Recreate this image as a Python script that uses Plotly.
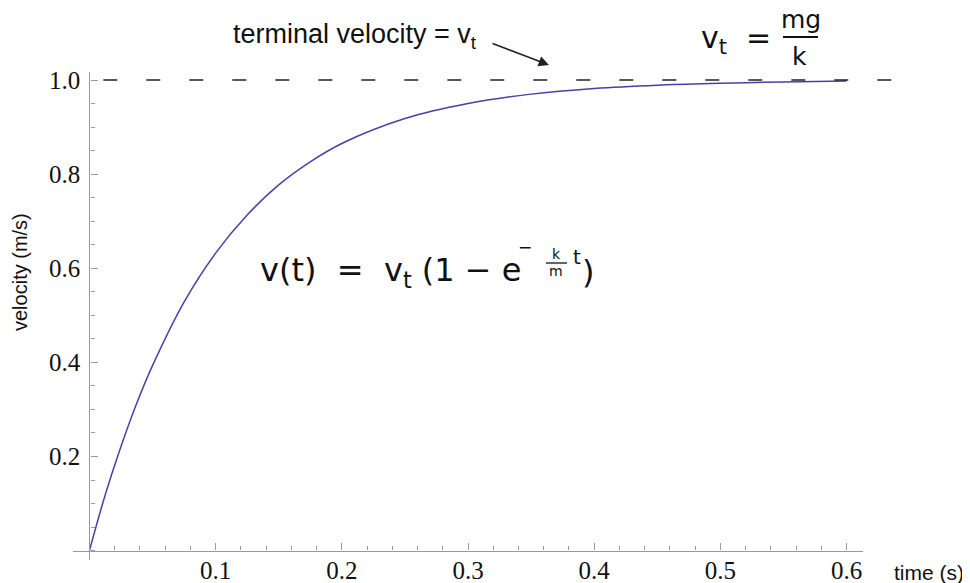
import plotly.graph_objects as go

# ---- data ----
time_s = [0, 0.0125, 0.025, 0.0375, 0.05, 0.075, 0.1, 0.125, 0.15, 0.175, 0.2,
          0.25, 0.3, 0.35, 0.4, 0.45, 0.5, 0.55, 0.6]
velocity = [0, 0.118, 0.221, 0.313, 0.393, 0.528, 0.632, 0.713, 0.777, 0.826, 0.865,
            0.918, 0.950, 0.970, 0.982, 0.989, 0.993, 0.996, 0.998]
terminal_v = 1.0
dash_t = [0.011, 0.646]

x_ticks = [0.1, 0.2, 0.3, 0.4, 0.5, 0.6]
x_tick_text = ["0.1", "0.2", "0.3", "0.4", "0.5", "0.6"]
y_ticks = [0.2, 0.4, 0.6, 0.8, 1.0]
y_tick_text = ["0.2", "0.4", "0.6", "0.8", "1.0"]

X_RANGE = [-0.013, 0.613]
Y_RANGE = [-0.02, 1.017]

OFF = 8  # page body margin
W, H = 970, 583
# plot area in screen pixels: left 73, right 863, top 72, bottom 560
L, T = 73 - OFF, 72 - OFF
R, B = W - (863 - OFF), H - (560 - OFF)
PW, PH = W - L - R, H - T - B


def px(x):
    return (x - OFF - L) / PW


def py(y):
    return (H - B - (y - OFF)) / PH


def xpaper(v):
    return (v - X_RANGE[0]) / (X_RANGE[1] - X_RANGE[0])


def ypaper(v):
    return (v - Y_RANGE[0]) / (Y_RANGE[1] - Y_RANGE[0])


fig = go.Figure()
fig.add_trace(go.Scatter(x=time_s, y=velocity, mode="lines",
                         line=dict(color="#4343a6", width=1.5, shape="spline"),
                         hoverinfo="skip", showlegend=False))

fig.add_shape(type="line", xref="paper", yref="y",
              x0=xpaper(dash_t[0]), x1=xpaper(dash_t[1]), y0=terminal_v, y1=terminal_v,
              line=dict(color="#222222", width=1.6, dash="14px,29px"))

serif = "Liberation Serif, Times New Roman, serif"
sans = "Liberation Sans, Arial, sans-serif"
mfont = "DejaVu Sans, sans-serif"
tickfont = dict(family=serif, size=25, color="#111111")

fig.update_layout(
    template="none",
    width=W, height=H,
    margin=dict(l=L, r=R, t=T, b=B, pad=0, autoexpand=False),
    paper_bgcolor="white", plot_bgcolor="white",
    xaxis=dict(range=X_RANGE, showgrid=False, zeroline=False, automargin=False,
               showline=True, linecolor="#9a9a9a", linewidth=1.2,
               anchor="free", position=ypaper(0),
               tickmode="array", tickvals=x_ticks, ticktext=x_tick_text,
               ticks="inside", ticklen=7, tickwidth=1, tickcolor="#9a9a9a",
               tickfont=tickfont, ticklabelstandoff=-3,
               minor=dict(dtick=0.02, tick0=0, ticks="inside", ticklen=4,
                          tickwidth=1, tickcolor="#9a9a9a", showgrid=False)),
    yaxis=dict(range=Y_RANGE, showgrid=False, zeroline=False, automargin=False,
               showline=True, linecolor="#9a9a9a", linewidth=1.2,
               anchor="free", position=xpaper(0),
               tickmode="array", tickvals=y_ticks, ticktext=y_tick_text,
               ticks="inside", ticklen=7, tickwidth=1, tickcolor="#9a9a9a",
               tickfont=tickfont, ticklabelstandoff=4,
               minor=dict(dtick=0.05, tick0=0, ticks="inside", ticklen=4,
                          tickwidth=1, tickcolor="#9a9a9a", showgrid=False)),
)

ann = []
# axis titles
ann.append(dict(text="time (s)", x=px(929), y=py(572), xref="paper", yref="paper",
                showarrow=False, font=dict(family=sans, size=21, color="#111111"),
                xanchor="center", yanchor="middle"))
ann.append(dict(text="velocity (m/s)", x=px(20), y=py(272), xref="paper", yref="paper",
                showarrow=False, textangle=-90, font=dict(family=sans, size=20, color="#111111"),
                xanchor="center", yanchor="middle"))
# terminal velocity label
ann.append(dict(text="terminal velocity = v<sub>t</sub>", x=px(231), y=py(36), xref="paper", yref="paper",
                showarrow=False, font=dict(family=sans, size=27, color="#111111"),
                xanchor="left", yanchor="middle"))
# arrow
ann.append(dict(text="", x=px(549), y=py(65), xref="paper", yref="paper",
                showarrow=True, ax=-58, ay=-22, arrowhead=2, arrowsize=1.3,
                arrowwidth=1.6, arrowcolor="#222222"))
# v_t = mg/k
mf = dict(family=mfont, size=30, color="#111111")
ann.append(dict(text="v<sub>t</sub>  =", x=px(699), y=py(40), xref="paper", yref="paper",
                showarrow=False, font=mf, xanchor="left", yanchor="middle"))
ann.append(dict(text="mg", x=px(801), y=py(35), xref="paper", yref="paper",
                showarrow=False, font=dict(family=mfont, size=25, color="#111111"),
                xanchor="center", yanchor="bottom", borderpad=0))
ann.append(dict(text="k", x=px(799), y=py(57), xref="paper", yref="paper",
                showarrow=False, font=dict(family=mfont, size=25, color="#111111"),
                xanchor="center", yanchor="middle"))
# formula v(t) = v_t (1 - e^{-k/m t})
ann.append(dict(text="v(t)  =  v<sub>t</sub> (1 − e", x=px(258), y=py(272), xref="paper", yref="paper",
                showarrow=False, font=dict(family=mfont, size=32, color="#111111"),
                xanchor="left", yanchor="middle"))
sf = dict(family=mfont, size=17, color="#111111")
ann.append(dict(text="−", x=px(525), y=py(247), xref="paper", yref="paper",
                showarrow=False, font=sf, xanchor="center", yanchor="middle"))
ann.append(dict(text="k", x=px(556), y=py(254), xref="paper", yref="paper",
                showarrow=False, font=dict(family=mfont, size=14, color="#111111"),
                xanchor="center", yanchor="middle"))
ann.append(dict(text="m", x=px(556), y=py(271), xref="paper", yref="paper",
                showarrow=False, font=dict(family=mfont, size=14, color="#111111"),
                xanchor="center", yanchor="middle"))
ann.append(dict(text="t", x=px(577), y=py(257), xref="paper", yref="paper",
                showarrow=False, font=dict(family=mfont, size=20, color="#111111"),
                xanchor="center", yanchor="middle"))
ann.append(dict(text=")", x=px(588), y=py(272), xref="paper", yref="paper",
                showarrow=False, font=dict(family=mfont, size=32, color="#111111"),
                xanchor="center", yanchor="middle"))
fig.update_layout(annotations=ann)

# fraction bars
fig.add_shape(type="line", xref="paper", yref="paper", x0=px(783), x1=px(818),
              y0=py(37), y1=py(37), line=dict(color="#111111", width=2.2))
fig.add_shape(type="line", xref="paper", yref="paper", x0=px(546), x1=px(567),
              y0=py(263), y1=py(263), line=dict(color="#111111", width=1.3))

fig.write_html("out.html")
